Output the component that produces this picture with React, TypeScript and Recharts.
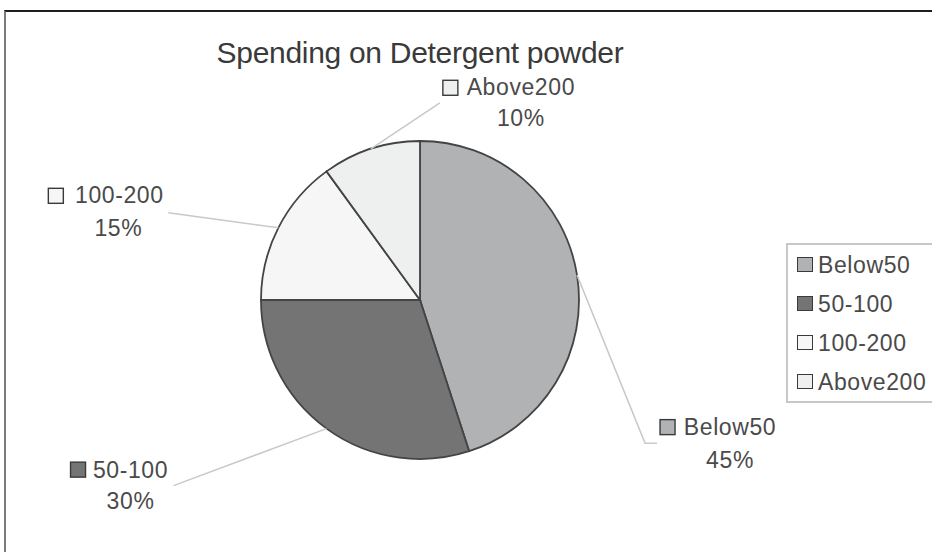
import React from 'react';
import { PieChart, Pie, Cell, Legend } from 'recharts';

// ---- data ----
const categories = ['Below50', '50-100', '100-200', 'Above200'];
const shares = [45, 30, 15, 10];
const sliceColors = ['#b1b2b4', '#747474', '#f6f6f6', '#eeefef'];
const chartTitle = 'Spending on Detergent powder';

const data = categories.map((name, i) => ({ name, value: shares[i] }));

// ---- layout (offsets relative to the slice's outer-edge midpoint) ----
const LABEL_LAYOUT = [
  { leader: [[68, 168], [80, 168]], square: [83, 152], name: [153, 152], pct: [153, 185] },
  { leader: [[-153, 57]], square: [-256, 41], name: [-196, 41], pct: [-196, 72] },
  { leader: [[-110, -15]], square: [-230, -32], name: [-159, -33], pct: [-160, 0] },
  { leader: [[69, -46]], square: [72, -61], name: [150, -62], pct: [150, -31] },
];

const FONT = '"Liberation Sans", Arial, sans-serif';
const TEXT_COLOR = '#4a4a4a';
const LABEL_SIZE = 23;
const LABEL_SPACING = 0.6;
const RAD = Math.PI / 180;

function renderLabel(props: any) {
  const { cx, cy, midAngle, outerRadius, index, percent } = props;
  const ex = cx + outerRadius * Math.cos(-midAngle * RAD);
  const ey = cy + outerRadius * Math.sin(-midAngle * RAD);
  const L = LABEL_LAYOUT[index];
  const pts = [[ex, ey], ...L.leader.map(([dx, dy]) => [ex + dx, ey + dy])];
  const sq = 15;
  return (
    <g key={`lbl-${index}`}>
      <polyline
        points={pts.map((p) => p.join(',')).join(' ')}
        fill="none"
        stroke="#c9c9c9"
        strokeWidth={1.5}
      />
      <rect
        x={ex + L.square[0]}
        y={ey + L.square[1] - sq / 2}
        width={sq}
        height={sq}
        fill={sliceColors[index]}
        stroke="#3a3a3a"
        strokeWidth={1.4}
      />
      <text
        x={ex + L.name[0]}
        y={ey + L.name[1]}
        textAnchor="middle"
        dominantBaseline="central"
        fontFamily={FONT}
        fontSize={LABEL_SIZE}
        letterSpacing={LABEL_SPACING}
        fill={TEXT_COLOR}
      >
        {categories[index]}
      </text>
      <text
        x={ex + L.pct[0]}
        y={ey + L.pct[1]}
        textAnchor="middle"
        dominantBaseline="central"
        fontFamily={FONT}
        fontSize={LABEL_SIZE}
        letterSpacing={LABEL_SPACING}
        fill={TEXT_COLOR}
      >
        {`${Math.round(percent * 100)}%`}
      </text>
    </g>
  );
}

function renderLegend() {
  return (
    <div
      style={{
        boxSizing: 'border-box',
        width: 170,
        height: 160,
        border: '2px solid #c8c8c8',
        paddingLeft: 9,
        background: '#fff',
        fontFamily: FONT,
        fontSize: LABEL_SIZE,
        letterSpacing: LABEL_SPACING,
        color: TEXT_COLOR,
      }}
    >
      {categories.map((c, i) => (
        <div key={c} style={{ height: 39, lineHeight: '39px', whiteSpace: 'nowrap' }}>
          <span
            style={{
              display: 'inline-block',
              boxSizing: 'border-box',
              width: 16,
              height: 15,
              background: sliceColors[i],
              border: '1.4px solid #3a3a3a',
              verticalAlign: 'middle',
              marginRight: 5,
              marginTop: -3,
            }}
          />
          <span style={{ verticalAlign: 'middle' }}>{c}</span>
        </div>
      ))}
    </div>
  );
}

export default function App() {
  return (
    <div
      style={{
        position: 'absolute',
        left: 0,
        top: 0,
        width: 932,
        height: 552,
        overflow: 'hidden',
        background: '#fff',
      }}
    >
      <div
        style={{
          position: 'absolute',
          left: 4,
          top: 10,
          width: 1200,
          height: 1200,
          borderTop: '2px solid #1e1e1e',
          borderLeft: '2px solid #7c7c7c',
        }}
      />
      <div
        style={{
          position: 'absolute',
          left: 0,
          top: 38,
          width: 840,
          textAlign: 'center',
          fontFamily: FONT,
          fontSize: 30,
          lineHeight: '30px',
          letterSpacing: -0.3,
          color: '#3a3a3a',
          whiteSpace: 'nowrap',
        }}
      >
        {chartTitle}
      </div>
      <div style={{ position: 'absolute', left: 0, top: 0 }}>
        <PieChart width={932} height={552} margin={{ top: 0, right: 0, bottom: 0, left: 0 }}>
          <Pie
            data={data}
            dataKey="value"
            nameKey="name"
            cx={420}
            cy={300}
            outerRadius={159}
            startAngle={90}
            endAngle={-270}
            stroke="#444"
            strokeWidth={1.8}
            label={renderLabel}
            labelLine={false}
            isAnimationActive={false}
          >
            {data.map((d, i) => (
              <Cell key={d.name} fill={sliceColors[i]} />
            ))}
          </Pie>
          <Legend
            layout="vertical"
            align="right"
            verticalAlign="middle"
            content={renderLegend}
            wrapperStyle={{ left: 786, top: 243, width: 170, height: 160 }}
          />
        </PieChart>
      </div>
    </div>
  );
}
